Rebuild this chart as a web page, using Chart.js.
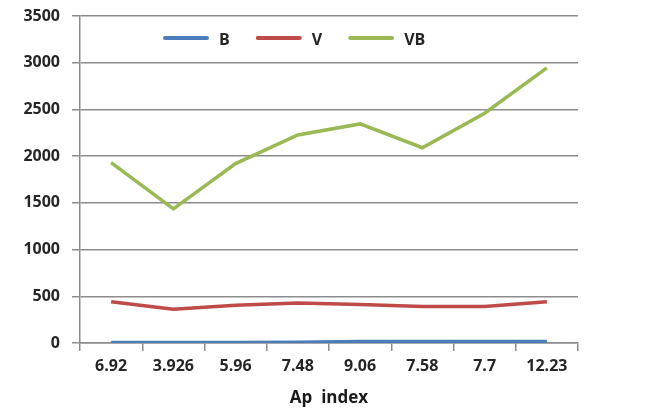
<!DOCTYPE html>
<html>
<head>
<meta charset="utf-8">
<script src="https://cdn.jsdelivr.net/npm/chart.js@4.4.1/dist/chart.umd.min.js"></script>
<style>
  html, body { margin: 0; padding: 0; background: #fff; }
  #wrap { width: 655px; height: 412px; position: relative; }
</style>
</head>
<body>
<div id="wrap"><canvas id="chart"></canvas></div>
<script>
// dados
const apIndex = ["6.92", "3.926", "5.96", "7.48", "9.06", "7.58", "7.7", "12.23"];
const valoresB = [5, 5, 5, 8, 15, 15, 15, 15];
const valoresV = [441, 362, 405, 427, 413, 391, 391, 441];
const valoresVB = [1930, 1435, 1920, 2227, 2345, 2090, 2460, 2945];
const yTicks = [0, 500, 1000, 1500, 2000, 2500, 3000, 3500];

const fonte = { family: "'Open Sans', sans-serif", size: 16, weight: "bold" };
const cinza = "#8c8c8c";

// legenda dentro da área do gráfico, em linha (como no Excel)
const legendaInterna = {
  id: "legendaInterna",
  afterDatasetsDraw(chart) {
    const ctx = chart.ctx;
    const area = chart.chartArea;
    let x = area.left + 85;
    const y = area.top + 24;
    ctx.save();
    ctx.font = "bold 16px 'Open Sans', sans-serif";
    ctx.textBaseline = "middle";
    chart.data.datasets.forEach((ds) => {
      ctx.strokeStyle = ds.borderColor;
      ctx.lineWidth = 4;
      ctx.lineCap = "round";
      ctx.beginPath();
      ctx.moveTo(x, y - 2);
      ctx.lineTo(x + 42, y - 2);
      ctx.stroke();
      x += 54;
      ctx.fillStyle = "#262626";
      ctx.fillText(ds.label, x, y);
      x += ctx.measureText(ds.label).width + 28;
    });
    ctx.restore();
  },
};

new Chart(document.getElementById("chart"), {
  type: "line",
  data: {
    labels: apIndex,
    datasets: [
      { label: "B", data: valoresB, borderColor: "#4a7ebb", borderWidth: 3.5, pointRadius: 0 },
      { label: "V", data: valoresV, borderColor: "#be4b48", borderWidth: 3.5, pointRadius: 0 },
      { label: "VB", data: valoresVB, borderColor: "#98b954", borderWidth: 3.5, pointRadius: 0 },
    ],
  },
  options: {
    responsive: true,
    maintainAspectRatio: false,
    animation: false,
    layout: { padding: { left: 0, right: 77, top: 0, bottom: 0 } },
    plugins: {
      legend: { display: false },
      tooltip: { enabled: false },
    },
    scales: {
      x: {
        offset: true,
        grid: { drawOnChartArea: false, offset: true, tickLength: 8, color: cinza, lineWidth: 1.5 },
        border: { color: cinza, width: 1.5 },
        ticks: { color: "#262626", font: fonte, padding: 6, maxRotation: 0 },
        title: { display: true, text: "Ap  index", color: "#1a1a1a", font: { family: "'Open Sans', sans-serif", size: 17, weight: "bold" }, padding: { top: 6 } },
        afterFit(scale) { scale.height = 69; },
      },
      y: {
        min: 0,
        max: 3500,
        afterBuildTicks(scale) { scale.ticks = yTicks.map((v) => ({ value: v })); },
        grid: { tickLength: 8, color: cinza, lineWidth: 1.5 },
        border: { color: cinza, width: 1.5 },
        ticks: { color: "#262626", font: fonte, padding: 12, callback: (v) => String(v) },
        afterFit(scale) {
          scale.width = 80;
          scale.paddingTop = 16;
          scale.paddingBottom = 0;
        },
      },
    },
  },
  plugins: [legendaInterna],
});
</script>
</body>
</html>
